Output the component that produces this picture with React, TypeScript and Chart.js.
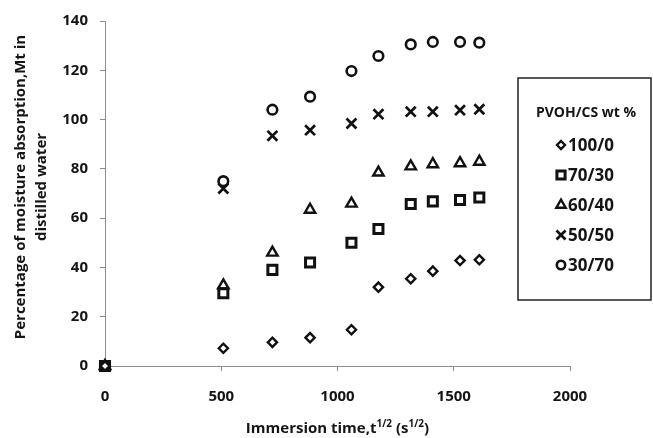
import React, { useEffect, useRef } from "react";
import { Chart, registerables } from "chart.js";

Chart.register(...registerables);

const timeSqrt = [0, 509, 720, 882, 1060, 1176, 1315, 1410, 1527, 1610];
const s100_0 = [0, 7.2, 9.6, 11.5, 14.7, 32, 35.4, 38.5, 42.8, 43.1];
const s70_30 = [0, 29.5, 39, 42, 50, 55.6, 65.7, 66.8, 67.4, 68.4];
const s60_40 = [0, 32.7, 46, 63.4, 65.9, 78.5, 81, 81.9, 82.3, 82.9];
const s50_50 = [0, 72, 93.4, 95.7, 98.4, 102.2, 103.2, 103.2, 103.8, 104.2];
const s30_70 = [0, 75, 104, 109.3, 119.7, 125.8, 130.5, 131.5, 131.5, 131.2];

const seriesLabels = ["100/0", "70/30", "60/40", "50/50", "30/70"];
const legendTitle = "PVOH/CS wt %";
const yTitleLines = ["Percentage of moisture absorption,Mt in", "distilled water"];
const xTitleParts = [
  { t: "Immersion time,t", sup: false },
  { t: "1/2", sup: true },
  { t: " (s", sup: false },
  { t: "1/2", sup: true },
  { t: ")", sup: false },
];

const FONT = "'Open Sans', Lato, sans-serif";
const TEXT = "#151515";
const AXIS = "#8c8c8c";

const styles = [
  { pointStyle: "rectRot", radius: 4.6, bw: 2.4 },
  { pointStyle: "rect", radius: 6.4, bw: 3 },
  { pointStyle: "triangle", radius: 6, bw: 2.4 },
  { pointStyle: "crossRot", radius: 7, bw: 2.7 },
  { pointStyle: "circle", radius: 4.8, bw: 2.6 },
];

const allSeries = [s100_0, s70_30, s60_40, s50_50, s30_70];

function drawMarker(ctx: CanvasRenderingContext2D, style: string, r: number, x: number, y: number) {
  ctx.beginPath();
  if (style === "circle") {
    ctx.arc(x, y, r, 0, Math.PI * 2);
  } else if (style === "rect") {
    const s = Math.SQRT1_2 * r;
    ctx.rect(x - s, y - s, 2 * s, 2 * s);
  } else if (style === "rectRot") {
    ctx.moveTo(x, y - r);
    ctx.lineTo(x + r, y);
    ctx.lineTo(x, y + r);
    ctx.lineTo(x - r, y);
    ctx.closePath();
  } else if (style === "triangle") {
    ctx.moveTo(x, y - r);
    ctx.lineTo(x + Math.sin((2 * Math.PI) / 3) * r, y - Math.cos((2 * Math.PI) / 3) * r);
    ctx.lineTo(x + Math.sin((4 * Math.PI) / 3) * r, y - Math.cos((4 * Math.PI) / 3) * r);
    ctx.closePath();
  } else if (style === "crossRot") {
    const o = Math.SQRT1_2 * r;
    ctx.moveTo(x - o, y - o);
    ctx.lineTo(x + o, y + o);
    ctx.moveTo(x - o, y + o);
    ctx.lineTo(x + o, y - o);
  }
  if (style !== "crossRot") ctx.fill();
  ctx.stroke();
}

const overlayPlugin = {
  id: "overlay",
  afterDraw(chart: any) {
    const ctx = chart.ctx as CanvasRenderingContext2D;
    const area = chart.chartArea;
    ctx.save();
    ctx.fillStyle = TEXT;
    // Y title
    ctx.save();
    ctx.translate(0, 187);
    ctx.rotate(-Math.PI / 2);
    ctx.font = `bold 15px ${FONT}`;
    ctx.textAlign = "center";
    ctx.textBaseline = "middle";
    ctx.fillText(yTitleLines[0], 0, 21);
    ctx.fillText(yTitleLines[1], 0, 42);
    ctx.restore();

    // X title with superscripts
    const big = `bold 15px ${FONT}`;
    const small = `bold 10px ${FONT}`;
    let total = 0;
    for (const p of xTitleParts) {
      ctx.font = p.sup ? small : big;
      total += ctx.measureText(p.t).width;
    }
    let x = (area.left + area.right) / 2 - total / 2;
    const yBase = 433;
    ctx.textAlign = "left";
    ctx.textBaseline = "alphabetic";
    for (const p of xTitleParts) {
      ctx.font = p.sup ? small : big;
      ctx.fillText(p.t, x, p.sup ? yBase - 6 : yBase);
      x += ctx.measureText(p.t).width;
    }

    // Legend box
    ctx.strokeStyle = "#222";
    ctx.lineWidth = 1.5;
    ctx.strokeRect(518, 78, 133, 222);
    ctx.font = `bold 14px ${FONT}`;
    ctx.textAlign = "center";
    ctx.textBaseline = "middle";
    ctx.fillText(legendTitle, 586, 113);
    ctx.textAlign = "left";
    ctx.font = `bold 17px ${FONT}`;
    seriesLabels.forEach((lab, i) => {
      const cy = 145 + i * 30;
      const st = styles[i];
      ctx.strokeStyle = "#111";
      ctx.fillStyle = "#fff";
      ctx.lineWidth = st.bw;
      drawMarker(ctx, st.pointStyle, st.radius - 0.6, 561, cy);
      ctx.fillStyle = TEXT;
      ctx.fillText(lab, 568, cy + 1);
    });
    ctx.restore();
  },
};

export default function App() {
  const ref = useRef<HTMLCanvasElement | null>(null);
  useEffect(() => {
    document.body.style.margin = "0";
    const canvas = ref.current!;
    const tickFont = { family: FONT, size: 15, weight: "bold" as const };
    const chart = new Chart(canvas, {
      type: "scatter",
      data: {
        datasets: allSeries.map((s, i) => ({
          label: seriesLabels[i],
          data: s.map((y, j) => ({ x: timeSqrt[j], y })),
          pointStyle: styles[i].pointStyle as any,
          pointRadius: styles[i].radius,
          pointBorderWidth: styles[i].bw,
          pointBorderColor: "#111",
          pointBackgroundColor: "#fff",
          showLine: false,
          clip: false as any,
        })),
      },
      options: {
        animation: false,
        responsive: false,
        devicePixelRatio: 1,
        layout: { padding: { left: 0, right: 83, top: 20, bottom: 0 } },
        plugins: { legend: { display: false }, tooltip: { enabled: false } },
        scales: {
          x: {
            type: "linear",
            min: 0,
            max: 2000,
            ticks: { stepSize: 500, color: TEXT, font: tickFont, padding: 17, callback: (v: any) => String(v) },
            grid: { drawOnChartArea: false, drawTicks: true, tickLength: 5, color: AXIS },
            border: { display: true, color: AXIS, width: 1 },
            afterFit: (s: any) => { s.height = 72; },
          },
          y: {
            type: "linear",
            min: 0,
            max: 140,
            ticks: { stepSize: 20, color: TEXT, font: tickFont, padding: 12, callback: (v: any) => String(v) },
            grid: { drawOnChartArea: false, drawTicks: true, tickLength: 5, color: AXIS },
            border: { display: true, color: AXIS, width: 1 },
            afterFit: (s: any) => { s.width = 105; },
          },
        },
      },
      plugins: [overlayPlugin],
    });
    return () => chart.destroy();
  }, []);
  return <canvas ref={ref} width={653} height={438} style={{ display: "block" }} />;
}
